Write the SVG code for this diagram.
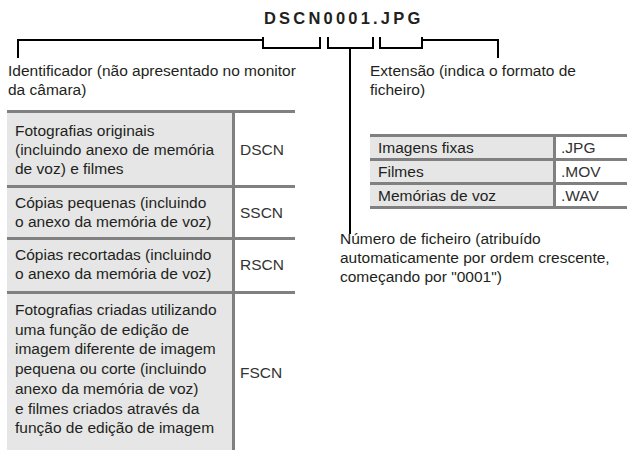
<svg xmlns="http://www.w3.org/2000/svg" width="627" height="450" viewBox="0 0 627 450">
<style>
text{font-family:"Liberation Sans",Arial,sans-serif;font-size:15.5px;fill:#231f20}
.title{font-weight:bold;font-size:16.5px;letter-spacing:3.2px}
.val{fill:#333}
.ln{fill:none;stroke:#000;stroke-width:2}
.bd{fill:#808080}
.lab{fill:#e6e6e6}
</style>
<rect width="627" height="450" fill="#fff"/>
<g id="title"><text class="title" x="264" y="24">DSCN0001.JPG</text></g>
<g id="connectors">
<polyline class="ln" points="18,58 18,40 263,40"/>
<polyline class="ln" points="263,37 263,48 320,48 320,37"/>
<polyline class="ln" points="328,37 328,48 373,48 373,37"/>
<line class="ln" x1="350" y1="48" x2="350" y2="234"/>
<polyline class="ln" points="380,37 380,48 422,48 422,37"/>
<polyline class="ln" points="422,40 498,40 498,58"/>
</g>
<g id="identificador">
<text x="8" y="76">Identificador (não apresentado no monitor</text>
<text x="8" y="95">da câmara)</text>
</g>
<g id="extensao">
<text x="370" y="76">Extensão (indica o formato de</text>
<text x="370" y="95">ficheiro)</text>
</g>
<g id="numero">
<text x="340" y="244">Número de ficheiro (atribuído</text>
<text x="340" y="263">automaticamente por ordem crescente,</text>
<text x="340" y="282">começando por "0001")</text>
</g>
<g id="table-left">
<rect class="lab" x="7" y="112" width="225" height="338"/>
<rect class="bd" x="7" y="110" width="288" height="3"/>
<rect class="bd" x="7" y="185" width="288" height="3"/>
<rect class="bd" x="7" y="237" width="288" height="3"/>
<rect class="bd" x="7" y="291" width="288" height="3"/>
<rect class="bd" x="232" y="110" width="3" height="340"/>
<text x="15" y="136">Fotografias originais</text>
<text x="15" y="155">(incluindo anexo de memória</text>
<text x="15" y="174">de voz) e filmes</text>
<text class="val" x="240" y="155">DSCN</text>
<text x="15" y="208">Cópias pequenas (incluindo</text>
<text x="15" y="227">o anexo da memória de voz)</text>
<text class="val" x="240" y="218">SSCN</text>
<text x="15" y="260">Cópias recortadas (incluindo</text>
<text x="15" y="279">o anexo da memória de voz)</text>
<text class="val" x="240" y="270">RSCN</text>
<text x="15" y="315">Fotografias criadas utilizando</text>
<text x="15" y="334.7">uma função de edição de</text>
<text x="15" y="354.4">imagem diferente de imagem</text>
<text x="15" y="374">pequena ou corte (incluindo</text>
<text x="15" y="393.8">anexo da memória de voz)</text>
<text x="15" y="413.5">e filmes criados através da</text>
<text x="15" y="433">função de edição de imagem</text>
<text class="val" x="240" y="378">FSCN</text>
</g>
<g id="table-right">
<rect class="lab" x="370" y="135" width="183" height="72"/>
<rect class="bd" x="370" y="134" width="257" height="3"/>
<rect class="bd" x="370" y="158" width="257" height="3"/>
<rect class="bd" x="370" y="182" width="257" height="3"/>
<rect class="bd" x="370" y="206" width="257" height="3"/>
<rect class="bd" x="553" y="134" width="3" height="75"/>
<text x="378" y="153">Imagens fixas</text>
<text class="val" x="561" y="153">.JPG</text>
<text x="378" y="177">Filmes</text>
<text class="val" x="561" y="177">.MOV</text>
<text x="378" y="201">Memórias de voz</text>
<text class="val" x="561" y="201">.WAV</text>
</g>
</svg>
